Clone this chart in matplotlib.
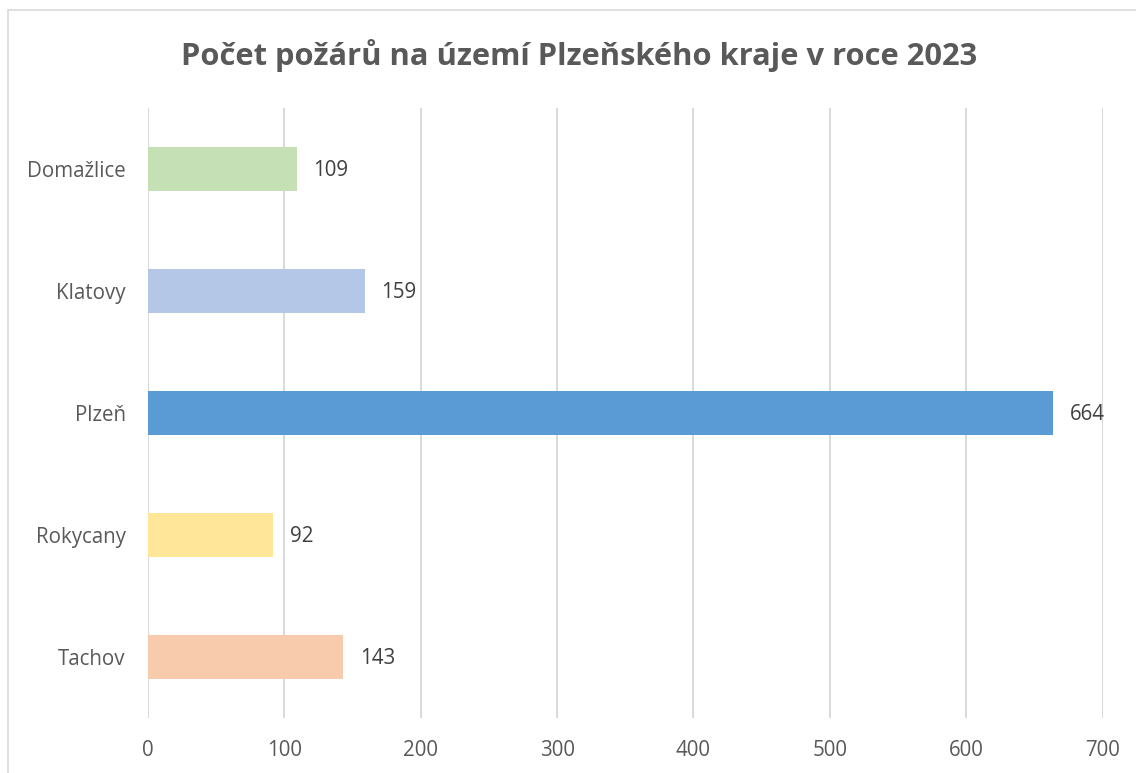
import matplotlib
matplotlib.use("Agg")
import matplotlib.pyplot as plt
from matplotlib.patches import Rectangle

categories = ["Domažlice", "Klatovy", "Plzeň", "Rokycany", "Tachov"]
values = [109, 159, 664, 92, 143]
colors = ["#C5E0B4", "#B4C7E7", "#5B9BD5", "#FFE699", "#F8CBAD"]
xticks = [0, 100, 200, 300, 400, 500, 600, 700]
title = "Počet požárů na území Plzeňského kraje v roce 2023"

plt.rcParams['font.family'] = ['Open Sans', 'DejaVu Sans']
W, H = 1136, 773
fig = plt.figure(figsize=(W/100, H/100), dpi=100)
fig.patch.set_facecolor("white")

# chart border (cropped at right/bottom)
fig.add_artist(Rectangle((8/W, -0.1), 1.2, 1 - 10/H + 0.1, transform=fig.transFigure,
                         fill=False, edgecolor="#D9D9D9", linewidth=1.2))

left, right = 148/W, 1102.5/W
bottom, top = 1 - 718/H, 1 - 108/H
ax = fig.add_axes([left, bottom, right-left, top-bottom])

ypos = list(range(len(categories)))
ax.barh(ypos, values, height=0.36, color=colors, zorder=3)
ax.set_ylim(len(categories)-0.5, -0.5)
ax.set_xlim(0, 700)
ax.set_xticks(xticks)
ax.set_yticks(ypos)
ax.set_yticklabels(categories)
ax.tick_params(axis='both', length=0, labelsize=14.8, colors="#595959")
ax.tick_params(axis='y', pad=16)
ax.tick_params(axis='x', pad=16)
ax.grid(axis='x', color="#D9D9D9", linewidth=1.4, zorder=0)
for s in ax.spines.values():
    s.set_visible(False)
ax.axvline(0, color="#D9D9D9", linewidth=1.4, zorder=1)

for y, v in zip(ypos, values):
    ax.annotate(str(v), (v, y), xytext=(12, -1), textcoords="offset points",
                va="center", ha="left", fontsize=14.8, color="#404040")

fig.text(579/W, 1 - 55/H, title, ha="center", va="center", fontsize=22.2,
         fontweight="bold", color="#595959")

fig.savefig("out.png", dpi=100)
